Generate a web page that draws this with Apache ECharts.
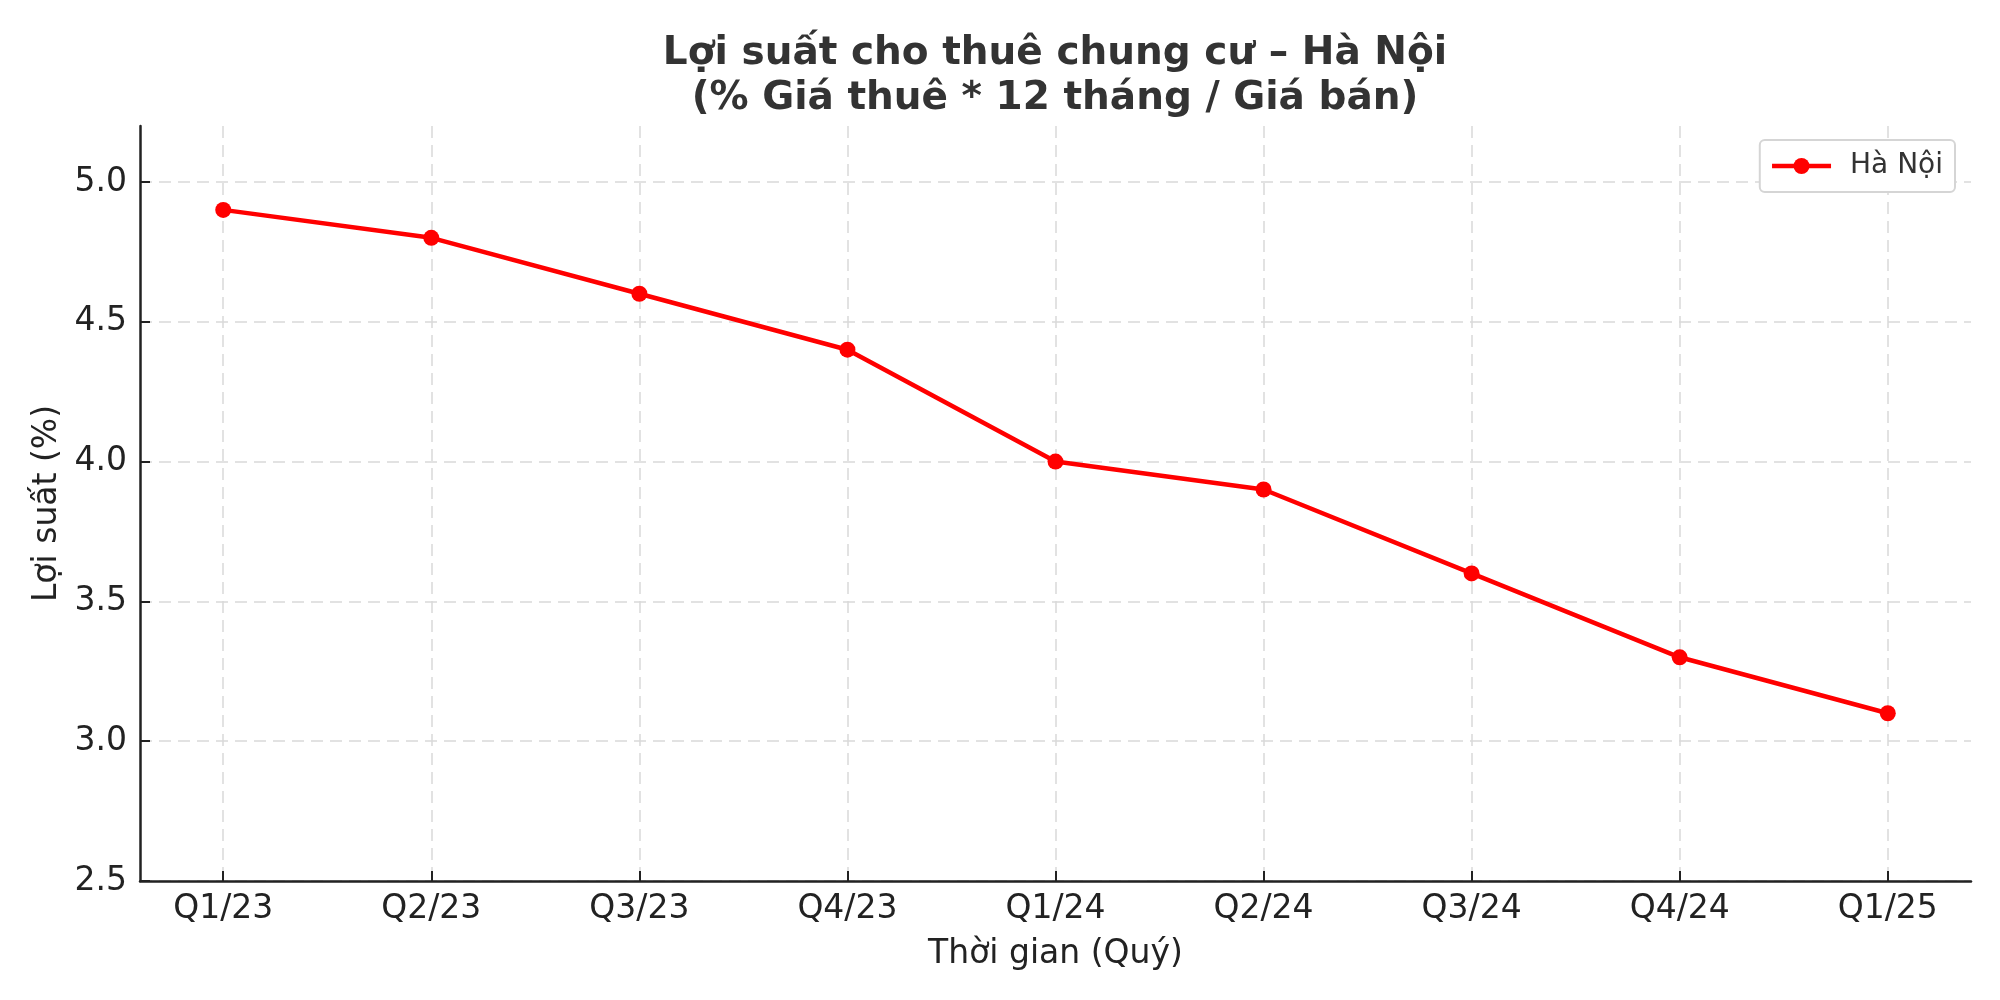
<!DOCTYPE html>
<html>
<head>
<meta charset="utf-8">
<script src="https://cdn.jsdelivr.net/npm/echarts@6/dist/echarts.min.js"></script>
<style>html,body{margin:0;padding:0;background:#fff}#c{width:2000px;height:1000px}</style>
</head>
<body>
<div id="c"></div>
<script>
const categories = ['Q1/23','Q2/23','Q3/23','Q4/23','Q1/24','Q2/24','Q3/24','Q4/24','Q1/25'];
const yieldValues = [4.9, 4.8, 4.6, 4.4, 4.0, 3.9, 3.6, 3.3, 3.1];
const yTicks = [2.5, 3.0, 3.5, 4.0, 4.5, 5.0];
const seriesName = 'Hà Nội';
const titleText = 'Lợi suất cho thuê chung cư – Hà Nội\n(% Giá thuê * 12 tháng / Giá bán)';
const xName = 'Thời gian (Quý)';
const yName = 'Lợi suất (%)';

const font = 'DejaVu Sans';
const xIdx = categories.map((_, i) => i);
const chart = echarts.init(document.getElementById('c'), null, {renderer: 'canvas'});
chart.setOption({
  animation: false,
  backgroundColor: '#fff',
  title: {
    text: titleText,
    left: 1050, top: 26, textAlign: 'center',
    textStyle: {fontFamily: font, fontSize: 39, fontWeight: 'bold', color: '#333', lineHeight: 45}
  },
  legend: {
    data: [seriesName], right: 45, top: 140,
    orient: 'vertical',
    backgroundColor: '#fff', borderColor: '#d5d5d5', borderWidth: 2, borderRadius: 5,
    padding: [12, 12, 12, 10],
    itemWidth: 59, itemHeight: 20,
    lineStyle: {width: 4.5},
    textStyle: {fontFamily: font, fontSize: 28, color: '#333', padding: [0, 0, 0, 14]}
  },
  grid: {left: 140, right: 29, top: 126, bottom: 119, containLabel: false},
  xAxis: {
    type: 'value', min: -0.4, max: 8.4,
    name: xName, nameLocation: 'middle', nameGap: 57,
    nameTextStyle: {fontFamily: font, fontSize: 33, color: '#222'},
    axisLine: {show: true, onZero: false, lineStyle: {color: '#222', width: 2.5}},
    axisTick: {show: true, inside: true, length: 10, customValues: xIdx, lineStyle: {color: '#222', width: 2}},
    axisLabel: {customValues: xIdx, formatter: v => categories[Math.round(v)] || '', fontFamily: font, fontSize: 33, color: '#222', margin: 12},
    splitLine: {show: true, lineStyle: {color: '#d9d9d9', width: 1.5, type: [12, 7]}}
  },
  yAxis: {
    type: 'value', min: 2.5, max: 5.2,
    name: yName, nameLocation: 'middle', nameGap: 75, nameRotate: 90,
    nameTextStyle: {fontFamily: font, fontSize: 33, color: '#222'},
    axisLine: {show: true, onZero: false, lineStyle: {color: '#222', width: 2.5}},
    axisTick: {show: true, inside: true, length: 10, customValues: yTicks, lineStyle: {color: '#222', width: 2}},
    axisLabel: {customValues: yTicks, formatter: v => v.toFixed(1), fontFamily: font, fontSize: 33, color: '#222', margin: 13},
    splitLine: {show: true, lineStyle: {color: '#d9d9d9', width: 1.5, type: [12, 7]}}
  },
  series: [{
    name: seriesName, type: 'line',
    data: yieldValues.map((v, i) => [i, v]),
    symbol: 'circle', symbolSize: 16,
    itemStyle: {color: '#ff0000'},
    lineStyle: {color: '#ff0000', width: 4.5},
    z: 5
  }]
});
</script>
</body>
</html>
